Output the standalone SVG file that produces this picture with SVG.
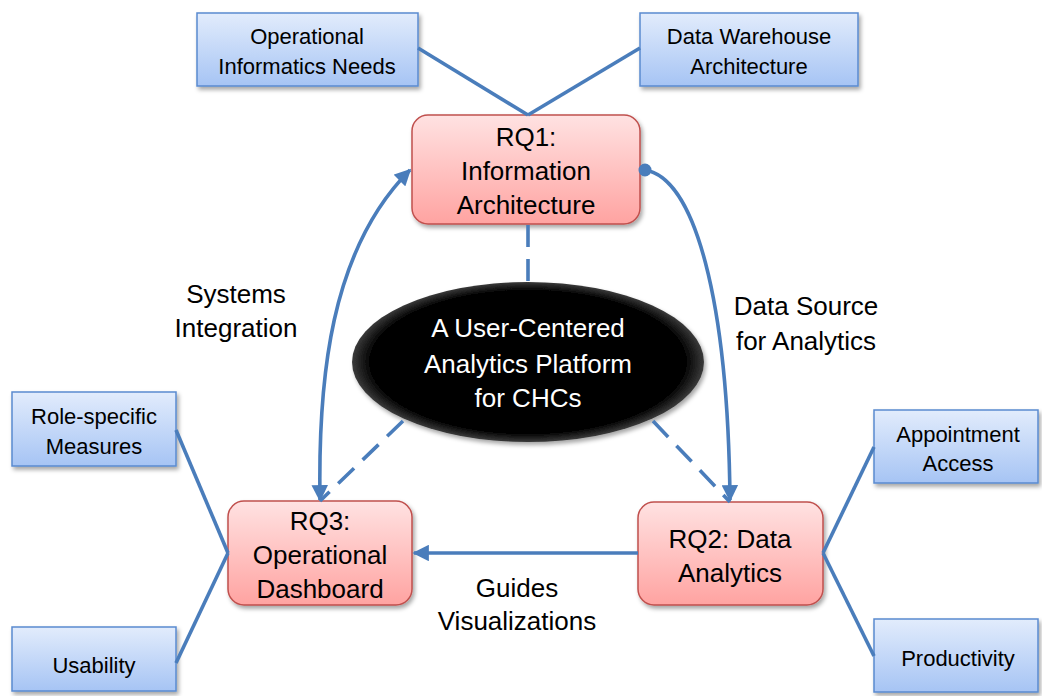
<svg xmlns="http://www.w3.org/2000/svg" width="1042" height="696" viewBox="0 0 1042 696">
<defs>
<linearGradient id="gBlue" x1="0" y1="0" x2="0" y2="1"><stop offset="0" stop-color="#e2ecfc"/><stop offset="1" stop-color="#a6c4f4"/></linearGradient>
<linearGradient id="gRed" x1="0" y1="0" x2="0" y2="1"><stop offset="0" stop-color="#ffe2e2"/><stop offset="1" stop-color="#ffa3a1"/></linearGradient>
<radialGradient id="gBlack" cx="0.5" cy="0.5" r="0.5"><stop offset="0" stop-color="#000"/><stop offset="0.9" stop-color="#050505"/><stop offset="1" stop-color="#3a3a3a"/></radialGradient>
<filter id="sh" x="-20%" y="-20%" width="140%" height="150%"><feDropShadow dx="2" dy="3" stdDeviation="2" flood-color="#000" flood-opacity="0.35"/></filter>
<marker id="arr" viewBox="0 0 10 10" refX="9" refY="5" markerWidth="4.6" markerHeight="4.6" orient="auto-start-reverse" markerUnits="strokeWidth"><path d="M0,0 L10,5 L0,10 z" fill="#4a7dbb"/></marker>
<style>
.blue{fill:url(#gBlue);stroke:#5a8ad0;stroke-width:1.5;filter:url(#sh)}
.red{fill:url(#gRed);stroke:#c0504d;stroke-width:1.5;filter:url(#sh)}
.t{font-family:"Liberation Sans",Arial,sans-serif;text-anchor:middle;fill:#000}
.s{font-size:22px}
.b{font-size:26px}
.w{fill:#fff}
.c{fill:none;stroke:#4a7dbb;stroke-width:3.6}
.d{stroke-dasharray:22 12}
</style>
</defs>
<g id="lbl-systems"><text class="t b" x="236" y="303">Systems</text><text class="t b" x="236" y="337">Integration</text></g>
<g id="lbl-datasource"><text class="t b" x="806" y="315">Data Source</text><text class="t b" x="806" y="350">for Analytics</text></g>
<g id="lbl-guides"><text class="t b" x="517" y="597">Guides</text><text class="t b" x="517" y="630">Visualizations</text></g>
<g id="oin"><rect class="blue" x="197" y="13" width="221" height="73"/><text class="t s" x="307" y="44">Operational</text><text class="t s" x="307" y="74">Informatics Needs</text></g>
<g id="dwa"><rect class="blue" x="640" y="13" width="218" height="73"/><text class="t s" x="749" y="44">Data Warehouse</text><text class="t s" x="749" y="74">Architecture</text></g>
<g id="rsm"><rect class="blue" x="12" y="392" width="164" height="74"/><text class="t s" x="94" y="424">Role-specific</text><text class="t s" x="94" y="454">Measures</text></g>
<g id="usa"><rect class="blue" x="12" y="627" width="164" height="64"/><text class="t s" x="94" y="673">Usability</text></g>
<g id="apa"><rect class="blue" x="874" y="410" width="164" height="73"/><text class="t s" x="958" y="442">Appointment</text><text class="t s" x="958" y="471">Access</text></g>
<g id="pro"><rect class="blue" x="874" y="619" width="164" height="73"/><text class="t s" x="958" y="666">Productivity</text></g>
<g id="rq1"><rect class="red" x="412" y="115" width="228" height="109" rx="16"/><text class="t b" x="526" y="146">RQ1:</text><text class="t b" x="526" y="180">Information</text><text class="t b" x="526" y="214">Architecture</text></g>
<g id="rq3"><rect class="red" x="228" y="501" width="184" height="104" rx="16"/><text class="t b" x="320" y="530">RQ3:</text><text class="t b" x="320" y="564">Operational</text><text class="t b" x="320" y="598">Dashboard</text></g>
<g id="rq2"><rect class="red" x="638" y="502" width="185" height="103" rx="16"/><text class="t b" x="730" y="548">RQ2: Data</text><text class="t b" x="730" y="582">Analytics</text></g>
<g id="platform"><ellipse cx="528" cy="362" rx="176" ry="80" fill="url(#gBlack)" filter="url(#sh)"/><text class="t b w" x="528" y="337">A User-Centered</text><text class="t b w" x="528" y="373">Analytics Platform</text><text class="t b w" x="528" y="407">for CHCs</text></g>
<g id="connectors">
<line class="c" x1="418" y1="48" x2="528" y2="115"/>
<line class="c" x1="640" y1="48" x2="528" y2="115"/>
<line class="c" x1="176" y1="430" x2="228" y2="553"/>
<line class="c" x1="176" y1="663" x2="228" y2="553"/>
<line class="c" x1="823" y1="553" x2="874" y2="447"/>
<line class="c" x1="823" y1="553" x2="874" y2="656"/>
<line class="c d" x1="528" y1="225" x2="528" y2="282"/>
<line class="c d" x1="403" y1="421" x2="320" y2="501"/>
<line class="c d" x1="653" y1="421" x2="730" y2="502"/>
<line class="c" x1="638" y1="553" x2="414" y2="553" marker-end="url(#arr)"/>
<path class="c" d="M320,500 C318,380 330,250 410,170" marker-start="url(#arr)" marker-end="url(#arr)"/>
<path class="c" d="M645,170 C695,178 728,300 730,500" marker-end="url(#arr)"/>
<circle cx="645" cy="170" r="6.5" fill="#4a7dbb"/>
</g>
</svg>
